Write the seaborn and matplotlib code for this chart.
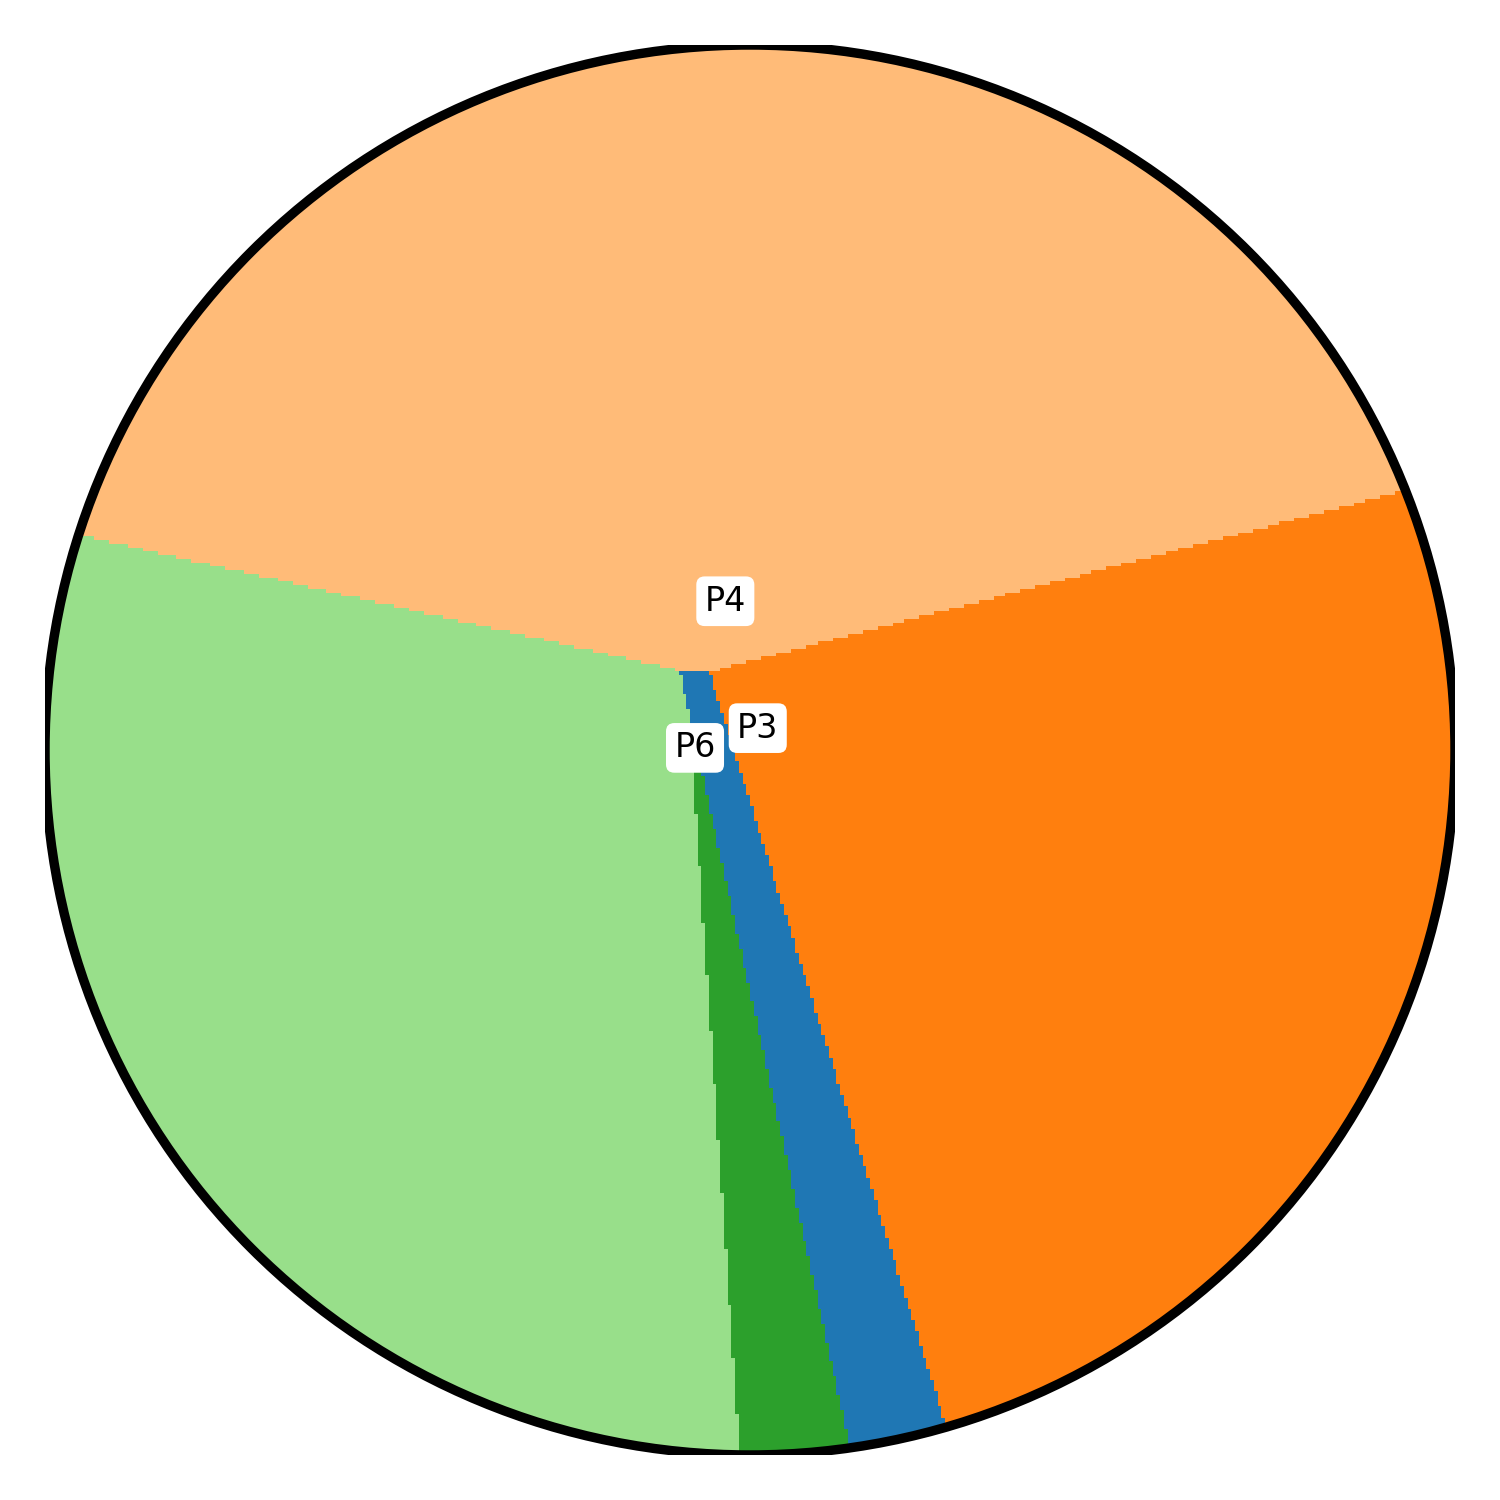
import numpy as np
import matplotlib
matplotlib.use("Agg")
import matplotlib.pyplot as plt
from matplotlib.path import Path
from matplotlib.patches import Circle
from matplotlib.colors import ListedColormap
import seaborn as sns

# region outlines, in units of the circle radius (centre at 0, 0)
region_names = ["P1", "P2", "P3", "P4", "P5", "P6"]
p1_outline = [(-0.100, 0.113), (-0.058, 0.111), (0.357, -1.21), (0.190, -1.21)]
p3_outline = [(-0.058, 0.111), (1.21, 0.441), (1.21, -1.21), (0.357, -1.21)]
p4_outline = [(-1.21, 0.363), (-0.100, 0.113), (-0.058, 0.111),
              (1.21, 0.441), (1.21, 1.21), (-1.21, 1.21)]
p5_outline = [(-0.087, 0.055), (0.190, -1.21), (0.000, -1.21)]
p6_outline = [(-1.21, 0.363), (-0.100, 0.113), (-0.087, 0.055),
              (0.000, -1.21), (-1.21, -1.21)]

label_names = ["P4", "P3", "P6"]
label_x = [-0.035, 0.011, -0.078]
label_y = [0.211, 0.031, 0.003]

N = 376  # grid cells across the diameter

sns.set_theme(style="white")
palette = sns.color_palette("tab20", len(region_names))

centres = -1 + (np.arange(N) + 0.5) * 2 / N
gx, gy = np.meshgrid(centres, centres[::-1])
pts = np.column_stack([gx.ravel(), gy.ravel()])

grid = np.full(N * N, np.nan)
for code, outline in [(0, p1_outline), (2, p3_outline), (3, p4_outline),
                      (4, p5_outline), (5, p6_outline)]:
    inside = Path(outline).contains_points(pts)
    grid[inside & np.isnan(grid)] = code
grid = grid.reshape(N, N)

# cells lying exactly on a shared edge: take the neighbour on the right
while np.isnan(grid).any():
    gaps = np.isnan(grid)
    grid[:, :-1][gaps[:, :-1]] = grid[:, 1:][gaps[:, :-1]]
    grid[:, -1][np.isnan(grid[:, -1])] = 3

fig = plt.figure(figsize=(7.5, 7.5), dpi=200)
ax = fig.add_axes([0.03, 0.03, 0.94, 0.94])
sns.heatmap(grid, cmap=ListedColormap(palette), vmin=-0.5, vmax=len(region_names) - 0.5,
            cbar=False, xticklabels=False, yticklabels=False, ax=ax)
ax.set_xlim(0, N)
ax.set_ylim(N, 0)

rim = Circle((N / 2, N / 2), N / 2, fill=False, edgecolor="black", linewidth=3.4, zorder=5)
ax.add_patch(rim)
clip = Circle((N / 2, N / 2), N / 2, transform=ax.transData)
ax.collections[0].set_clip_path(clip)

for name, lx, ly in zip(label_names, label_x, label_y):
    ax.text((lx + 1) / 2 * N, (1 - ly) / 2 * N, name, fontsize=12, color="black",
            ha="center", va="center", zorder=6,
            bbox=dict(boxstyle="round,pad=0.25", facecolor="white", edgecolor="none"))

ax.set_axis_off()
fig.savefig("out.png", dpi=200)
